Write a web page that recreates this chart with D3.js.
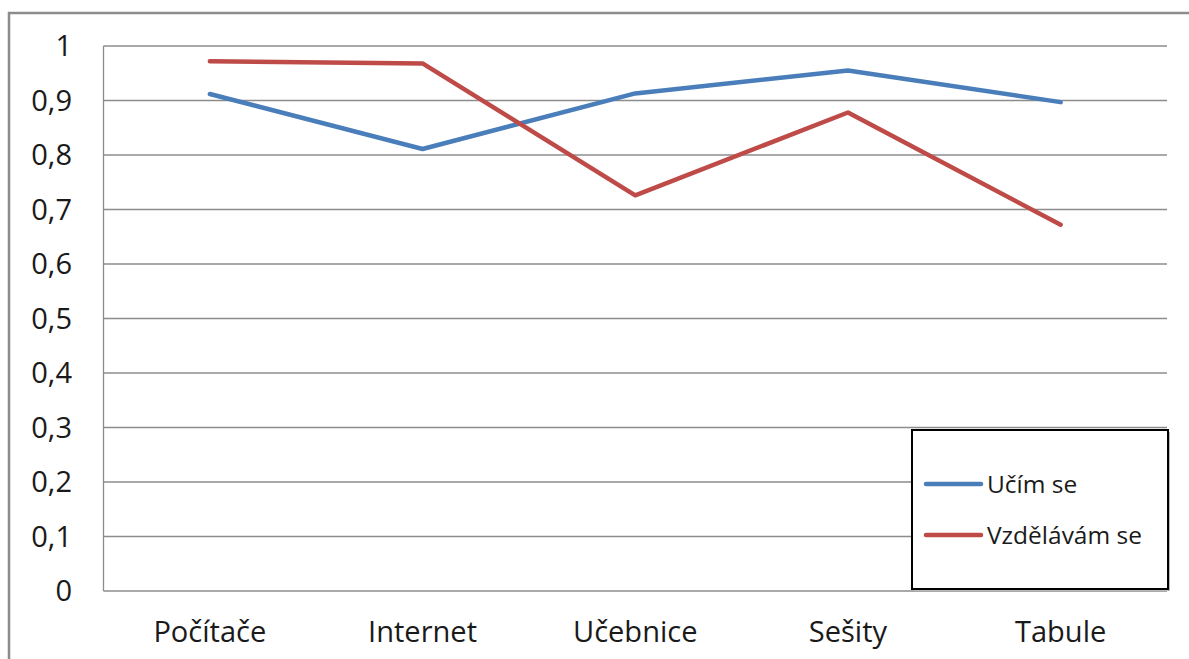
<!DOCTYPE html>
<html><head><meta charset="utf-8">
<script src="https://cdn.jsdelivr.net/npm/d3@7"></script>
<style>body{margin:0;background:#fff}svg{display:block}</style>
</head><body>
<script>
const categories = ["Počítače","Internet","Učebnice","Sešity","Tabule"];
const seriesNames = ["Učím se","Vzdělávám se"];
const ucimSe = [0.912,0.811,0.913,0.955,0.897];
const vzdelavamSe = [0.972,0.968,0.726,0.878,0.672];
const yTicks = [0,0.1,0.2,0.3,0.4,0.5,0.6,0.7,0.8,0.9,1];
const yTickLabels = ["0","0,1","0,2","0,3","0,4","0,5","0,6","0,7","0,8","0,9","1"];
const colors = ["#4a7ebb","#be4b48"];

const W=1189,H=659;
const svg=d3.select("body").append("svg").attr("width",W).attr("height",H);
const font="'Open Sans', sans-serif";
function fit(str,target){
  const p=svg.append("text").attr("font-family",font).attr("font-size",20).text(str);
  const v=20*target/p.node().getComputedTextLength(); p.remove(); return v;
}
const fs=fit("Počítače",113);
const fsL=fit("Vzdělávám se",155);

svg.append("rect").attr("x",9).attr("y",13).attr("width",1200).attr("height",700)
  .attr("fill","#fff").attr("stroke","#8c8c8c").attr("stroke-width",2.5);

const L=103.5,R=1167,T=46,B=591;
const x=d3.scaleBand().domain(categories).range([L,R]);
const y=d3.scaleLinear().domain([0,1]).range([B,T]);

svg.append("g").selectAll("line").data(yTicks).join("line")
  .attr("x1",L).attr("x2",R).attr("y1",d=>y(d)).attr("y2",d=>y(d))
  .attr("stroke","#8c8c8c").attr("stroke-width",1.3);
svg.append("line").attr("x1",L).attr("x2",L).attr("y1",T).attr("y2",B)
  .attr("stroke","#8c8c8c").attr("stroke-width",1.3);

svg.append("g").selectAll("text").data(yTicks).join("text")
  .attr("x",72).attr("y",d=>y(d)).attr("dy","0.35em").attr("text-anchor","end")
  .attr("font-family",font).attr("font-size",fs).attr("fill","#1a1a1a")
  .text((d,i)=>yTickLabels[i]);
svg.append("g").selectAll("text").data(categories).join("text")
  .attr("x",d=>x(d)+x.bandwidth()/2).attr("y",632).attr("dy","0.35em").attr("text-anchor","middle")
  .attr("font-family",font).attr("font-size",fs).attr("fill","#1a1a1a")
  .text(d=>d);

const line=d3.line().x((d,i)=>x(categories[i])+x.bandwidth()/2).y(d=>y(d));
[ucimSe,vzdelavamSe].forEach((s,k)=>{
  svg.append("path").datum(s).attr("d",line).attr("fill","none")
    .attr("stroke",colors[k]).attr("stroke-width",4.5)
    .attr("stroke-linejoin","round").attr("stroke-linecap","round");
});

const lg=svg.append("g");
lg.append("rect").attr("x",914).attr("y",432).attr("width",256).attr("height",159)
  .attr("fill","#bbb");
lg.append("rect").attr("x",912).attr("y",430).attr("width",256).attr("height",159)
  .attr("fill","#fff").attr("stroke","#000").attr("stroke-width",2);
seriesNames.forEach((n,i)=>{
  const yy=484+i*51;
  lg.append("line").attr("x1",926).attr("x2",981).attr("y1",yy).attr("y2",yy)
    .attr("stroke",colors[i]).attr("stroke-width",4.5).attr("stroke-linecap","round");
  lg.append("text").attr("x",987).attr("y",yy).attr("dy","0.35em")
    .attr("font-family",font).attr("font-size",fsL).attr("fill","#1a1a1a").text(n);
});
</script>
</body></html>
